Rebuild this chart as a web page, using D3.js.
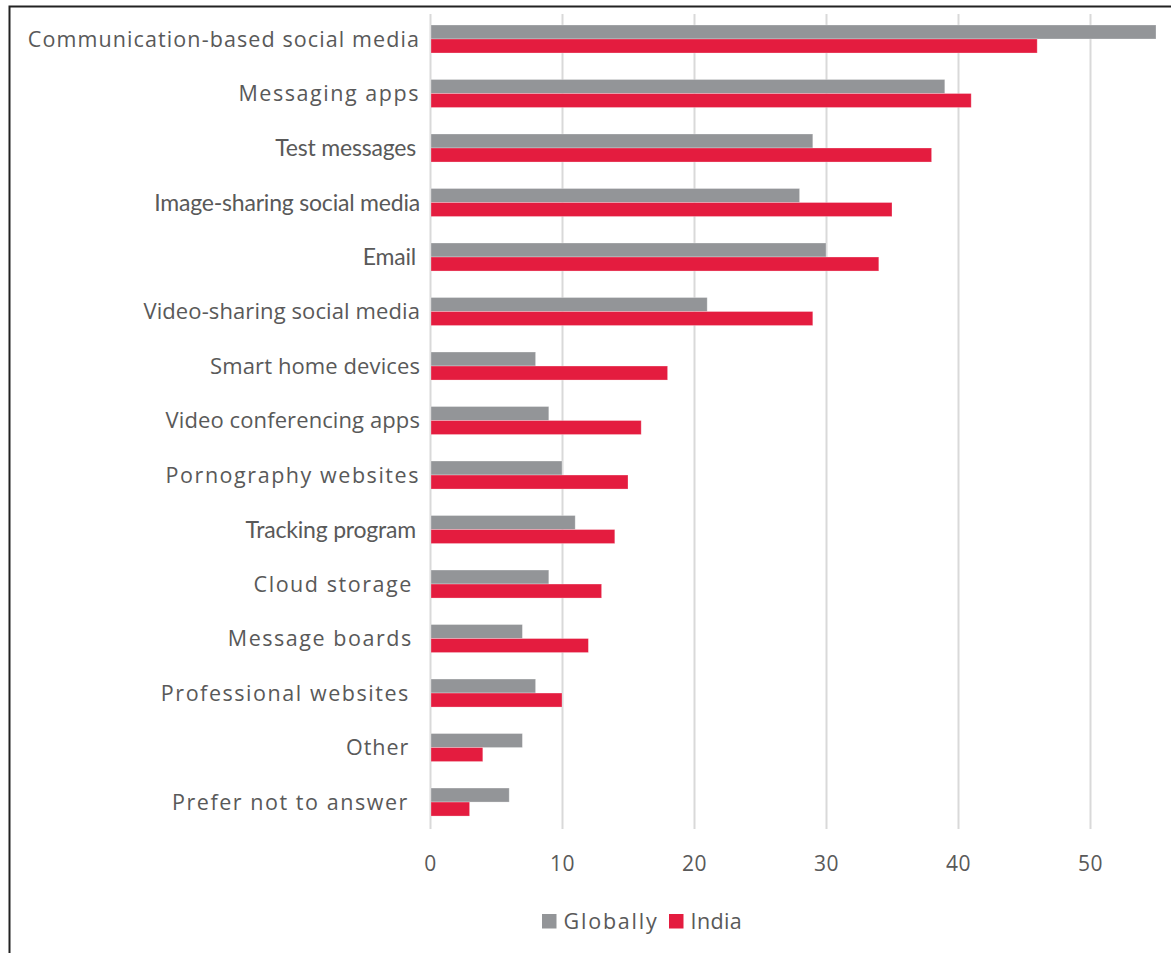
<!DOCTYPE html>
<html>
<head>
<meta charset="utf-8">
<script src="https://cdn.jsdelivr.net/npm/d3@7"></script>
<style>
  html, body { margin: 0; padding: 0; background: #fff; }
  svg { display: block; }
  text { white-space: pre; }
</style>
</head>
<body>
<svg id="chart" width="1171" height="953"></svg>
<script>
// Channels through which people reported receiving unwanted content (%)
const categories = [
  "Communication-based social media",
  "Messaging apps",
  "Test messages",
  "Image-sharing social media",
  "Email",
  "Video-sharing social media",
  "Smart home devices",
  "Video conferencing apps",
  "Pornography websites",
  "Tracking program",
  "Cloud storage ",
  "Message boards ",
  "Professional websites ",
  "Other ",
  "Prefer not to answer "
];
const globally = [55, 39, 29, 28, 30, 21, 8, 9, 10, 11, 9, 7, 8, 7, 6];
const india    = [46, 41, 38, 35, 34, 29, 18, 16, 15, 14, 13, 12, 10, 4, 3];
const seriesNames = ["Globally", "India"];
const xTicks = [0, 10, 20, 30, 40, 50];

const colors = { Globally: "#939598", India: "#E41C3F" };
const textColor = "#595959";

// label typography: three type treatments used in the category column
const wideStyle   = { family: "'Open Sans', sans-serif", size: 21.5, spacing: 1.55, shift: 0 };
const narrowStyle = { family: "Lato, sans-serif", size: 23, spacing: -0.2, shift: -4 };
const plainStyle  = { family: "'Open Sans', sans-serif", size: 22, spacing: 0.1, shift: 0 };
const labelStyle = {
  "Communication-based social media": { ...wideStyle, spacing: 1.1 },
  "Test messages": narrowStyle,
  "Image-sharing social media": { ...narrowStyle, shift: 0 },
  "Email": narrowStyle,
  "Tracking program": narrowStyle,
  "Video-sharing social media": plainStyle,
  "Smart home devices": plainStyle,
  "Video conferencing apps": plainStyle,
  "Professional websites": { ...wideStyle, shift: -3 },
  "Other": { ...wideStyle, spacing: 1.0, shift: -4 },
  "Prefer not to answer": { ...wideStyle, shift: -4 }
};

const svg = d3.select("#chart");

// outer frame (open to the right and bottom)
svg.append("path")
  .attr("d", "M9.5,953 V6.5 H1171")
  .attr("fill", "none")
  .attr("stroke", "#222")
  .attr("stroke-width", 2);

const x = d3.scaleLinear().domain([0, 55]).range([430, 1156]);

const y0 = d3.scaleBand()
  .domain(categories)
  .range([11.75, 829.3])
  .paddingInner(0.486)
  .paddingOuter(0.243);

const y1 = d3.scaleBand()
  .domain(seriesNames)
  .range([0, y0.bandwidth()]);

// vertical gridlines
const grid = svg.append("g")
  .attr("transform", "translate(0,14)")
  .call(d3.axisBottom(x).tickValues(xTicks).tickSize(815).tickFormat(""));
grid.select(".domain").remove();
grid.selectAll(".tick line")
  .attr("stroke", "#d9d9d9")
  .attr("stroke-width", 2);

// bars
const rows = categories.map((c, i) => ({ cat: c, values: [
  { key: "Globally", value: globally[i] },
  { key: "India", value: india[i] }
]}));

const groups = svg.append("g").selectAll("g")
  .data(rows)
  .join("g")
  .attr("transform", d => `translate(0,${y0(d.cat)})`);

groups.selectAll("rect")
  .data(d => d.values)
  .join("rect")
  .attr("x", x(0) + 1)
  .attr("y", d => y1(d.key))
  .attr("width", d => x(d.value) - x(0) - 1)
  .attr("height", y1.bandwidth())
  .attr("fill", d => colors[d.key])
  .attr("stroke", "#ffffff")
  .attr("stroke-opacity", 0.35)
  .attr("stroke-width", 0.8);

// category labels
const yAxis = svg.append("g")
  .attr("transform", `translate(${x(0) - 10},0)`)
  .call(d3.axisLeft(y0).tickSize(0).tickPadding(0));
yAxis.select(".domain").remove();
yAxis.selectAll(".tick text")
  .attr("fill", textColor)
  .attr("dy", "0.35em")
  .each(function(d) {
    const s = labelStyle[d.trim()] || wideStyle;
    d3.select(this)
      .attr("dx", s.shift)
      .style("font-family", s.family)
      .style("font-size", s.size + "px")
      .style("letter-spacing", s.spacing + "px");
  });

// x tick labels
const xAxis = svg.append("g")
  .attr("transform", "translate(0,853)")
  .call(d3.axisBottom(x).tickValues(xTicks).tickSize(0).tickPadding(0));
xAxis.select(".domain").remove();
xAxis.selectAll(".tick text")
  .attr("fill", textColor)
  .attr("dy", "0.88em")
  .style("font-family", "'Open Sans', sans-serif")
  .style("font-size", "21px")
  .style("letter-spacing", "0.5px");

// legend
const legend = svg.append("g").attr("transform", "translate(542,914)");
const legendItems = [
  { key: "Globally", dx: 0, spacing: 1.8 },
  { key: "India", dx: 127, spacing: 0.4 }
];
const li = legend.selectAll("g").data(legendItems).join("g")
  .attr("transform", d => `translate(${d.dx},0)`);
li.append("rect")
  .attr("width", 14.5).attr("height", 14.5)
  .attr("fill", d => colors[d.key]);
li.append("text")
  .attr("x", 21.5)
  .attr("y", 7.5)
  .attr("dy", "0.35em")
  .attr("fill", textColor)
  .style("font-family", "'Open Sans', sans-serif")
  .style("font-size", "21.5px")
  .style("letter-spacing", d => d.spacing + "px")
  .text(d => d.key);
</script>
</body>
</html>
